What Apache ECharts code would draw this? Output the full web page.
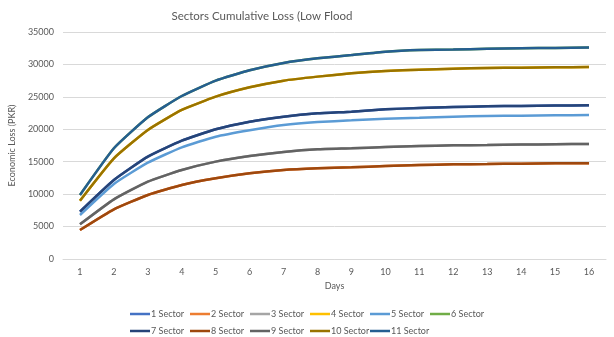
<!DOCTYPE html>
<html>
<head>
<meta charset="utf-8">
<script src="https://cdn.jsdelivr.net/npm/echarts@6/dist/echarts.min.js"></script>
<style>
  html, body { margin: 0; padding: 0; background: #ffffff; }
  #chart { width: 614px; height: 337px; }
</style>
</head>
<body>
<div id="chart"></div>
<script>
// Days on the horizontal axis
const days = ['1','2','3','4','5','6','7','8','9','10','11','12','13','14','15','16'];

// Cumulative economic loss (PKR) per sector, by day
const sector1  = [7300, 12180, 15780, 18240, 20000, 21170, 21950, 22460, 22720, 23080, 23280, 23440, 23540, 23600, 23650, 23700];
const sector2  = [4470, 7660, 9870, 11410, 12440, 13210, 13720, 13980, 14140, 14340, 14490, 14600, 14650, 14700, 14750, 14750];
const sector3  = [5350, 9200, 11930, 13720, 15010, 15880, 16500, 16910, 17070, 17270, 17420, 17530, 17580, 17640, 17700, 17730];
const sector4  = [8990, 15520, 19890, 22980, 25030, 26470, 27500, 28120, 28630, 28990, 29190, 29350, 29450, 29500, 29550, 29600];
const sector5  = [6780, 11570, 14850, 17220, 18860, 19850, 20660, 21120, 21380, 21640, 21790, 21950, 22050, 22100, 22150, 22200];
const sector6  = [9870, 17070, 21850, 25130, 27500, 29090, 30220, 30940, 31450, 31970, 32230, 32300, 32400, 32500, 32550, 32600];
const sector7  = [7300, 12180, 15780, 18240, 20000, 21170, 21950, 22460, 22720, 23080, 23280, 23440, 23540, 23600, 23650, 23700];
const sector8  = [4470, 7660, 9870, 11410, 12440, 13210, 13720, 13980, 14140, 14340, 14490, 14600, 14650, 14700, 14750, 14750];
const sector9  = [5350, 9200, 11930, 13720, 15010, 15880, 16500, 16910, 17070, 17270, 17420, 17530, 17580, 17640, 17700, 17730];
const sector10 = [8990, 15520, 19890, 22980, 25030, 26470, 27500, 28120, 28630, 28990, 29190, 29350, 29450, 29500, 29550, 29600];
const sector11 = [9870, 17070, 21850, 25130, 27500, 29090, 30220, 30940, 31450, 31970, 32230, 32300, 32400, 32500, 32550, 32600];

const seriesNames = ['1 Sector','2 Sector','3 Sector','4 Sector','5 Sector','6 Sector',
                     '7 Sector','8 Sector','9 Sector','10 Sector','11 Sector'];
const seriesData = [sector1, sector2, sector3, sector4, sector5, sector6,
                    sector7, sector8, sector9, sector10, sector11];
const palette = ['#4472C4','#ED7D31','#A5A5A5','#FFC000','#5B9BD5','#70AD47',
                 '#264478','#9E480E','#636363','#997300','#255E91'];

const FONT = 'Lato, "Open Sans", sans-serif';
const TEXT = '#595959';

// Legend laid out as a grid: one vertical legend per column
const legendCols = [
  { left: 130, names: ['1 Sector', '7 Sector'] },
  { left: 190, names: ['2 Sector', '8 Sector'] },
  { left: 250, names: ['3 Sector', '9 Sector'] },
  { left: 310, names: ['4 Sector', '10 Sector'] },
  { left: 370, names: ['5 Sector', '11 Sector'] },
  { left: 430, names: ['6 Sector'] }
];

const legends = legendCols.map(c => ({
  data: c.names,
  orient: 'vertical',
  left: c.left,
  top: 308,
  icon: 'rect',
  itemWidth: 20,
  itemHeight: 2.5,
  itemGap: 5,
  padding: 0,
  selectedMode: false,
  textStyle: { fontFamily: FONT, fontSize: 9, color: TEXT, lineHeight: 12, padding: [0, 0, 0, -4] }
}));

const chart = echarts.init(document.getElementById('chart'), null, { renderer: 'canvas' });

chart.setOption({
  animation: false,
  backgroundColor: '#ffffff',
  color: palette,
  title: {
    text: 'Sectors Cumulative Loss (Low Flood',
    left: 257,
    top: 5,
    textAlign: 'center',
    textStyle: { fontFamily: FONT, fontSize: 11.5, fontWeight: 'normal', color: TEXT }
  },
  legend: legends,
  grid: { left: 60, right: 8, top: 32, bottom: 78 },
  xAxis: {
    type: 'category',
    data: days,
    boundaryGap: true,
    name: 'Days',
    nameLocation: 'middle',
    nameGap: 20,
    nameTextStyle: { fontFamily: FONT, fontSize: 9, color: TEXT },
    axisLine: { show: true, lineStyle: { color: '#d9d9d9', width: 1 } },
    axisTick: { show: false },
    axisLabel: { fontFamily: FONT, fontSize: 9, color: TEXT, margin: 9 }
  },
  yAxis: {
    type: 'value',
    min: 0,
    max: 35000,
    interval: 5000,
    name: 'Economic Loss (PKR)',
    nameLocation: 'middle',
    nameGap: 40,
    nameTextStyle: { fontFamily: FONT, fontSize: 9, color: TEXT },
    axisLine: { show: false },
    axisTick: { show: false },
    axisLabel: {
      fontFamily: FONT, fontSize: 9, color: TEXT, margin: 9,
      formatter: v => String(v)
    },
    splitLine: { lineStyle: { color: '#d9d9d9', width: 1 } }
  },
  series: seriesNames.map((name, i) => ({
    name: name,
    type: 'line',
    data: seriesData[i],
    smooth: 0.15,
    showSymbol: false,
    symbol: 'none',
    lineStyle: { width: 2.5, color: palette[i] },
    itemStyle: { color: palette[i] }
  }))
});
</script>
</body>
</html>
